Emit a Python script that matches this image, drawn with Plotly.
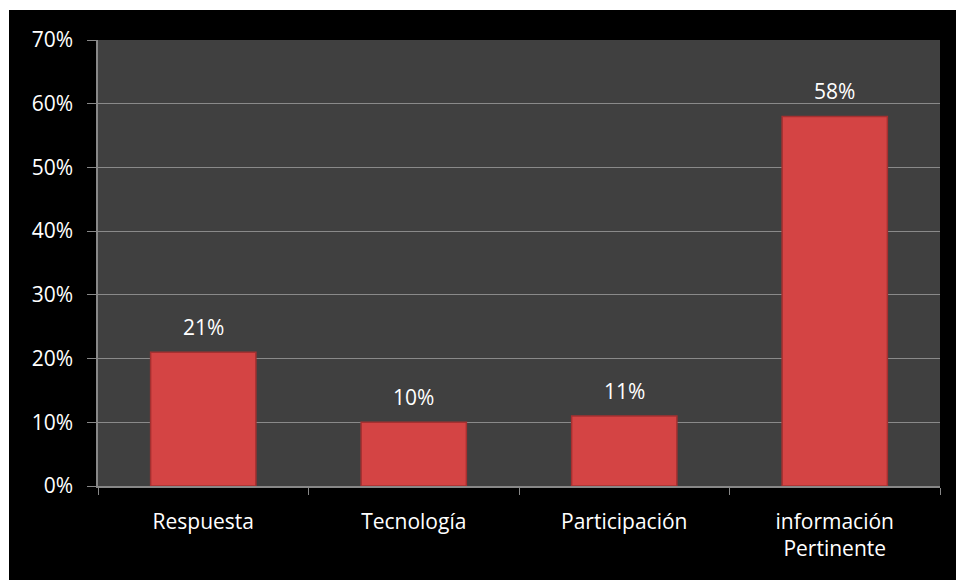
import plotly.graph_objects as go

categories = ["Respuesta", "Tecnología", "Participación", "información<br>Pertinente"]
values = [0.21, 0.10, 0.11, 0.58]
labels = ["21%", "10%", "11%", "58%"]
y_ticks = [0, 0.1, 0.2, 0.3, 0.4, 0.5, 0.6, 0.7]
y_tick_text = ["0%", "10%", "20%", "30%", "40%", "50%", "60%", "70%"]

FONT = "Open Sans"
FS = 21
W, H = 1000, 620
L, T = 89, 30
R, B = W - 931, H - 476

fig = go.Figure()
fig.add_trace(go.Bar(
    x=categories, y=values, width=0.5,
    marker=dict(color="#d44444", line=dict(color="#a53030", width=1.5)),
    hoverinfo="skip",
))
for c, v, t in zip(categories, values, labels):
    fig.add_annotation(x=c, y=v, text=t, showarrow=False, yshift=25,
                       font=dict(family=FONT, size=FS, color="white"))

fig.update_layout(
    width=W, height=H,
    margin=dict(l=L, r=R, t=T, b=B),
    paper_bgcolor="black", plot_bgcolor="#404040",
    showlegend=False, bargap=0.5,
    font=dict(family=FONT, size=FS, color="white"),
)
fig.update_xaxes(
    tickson="boundaries", ticks="outside", ticklen=7, tickcolor="#888888", tickwidth=1,
    showline=True, linecolor="#888888", linewidth=1.5, showgrid=False,
    tickfont=dict(family=FONT, size=FS, color="white"), ticklabelstandoff=16,
)
fig.update_yaxes(
    range=[0, 0.7], tickvals=y_ticks, ticktext=y_tick_text,
    ticks="outside", ticklen=9, tickcolor="#888888", tickwidth=1,
    showline=True, linecolor="#888888", linewidth=1.5,
    showgrid=True, gridcolor="#8a8a8a", gridwidth=1.2, zeroline=False,
    tickfont=dict(family=FONT, size=FS, color="white"), ticklabelstandoff=10,
)
fig.write_html(
    "out.html",
    post_script="document.body.style.margin='10px 0 0 9px';"
                "document.body.style.overflow='hidden';"
                "document.body.style.background='white';",
)
